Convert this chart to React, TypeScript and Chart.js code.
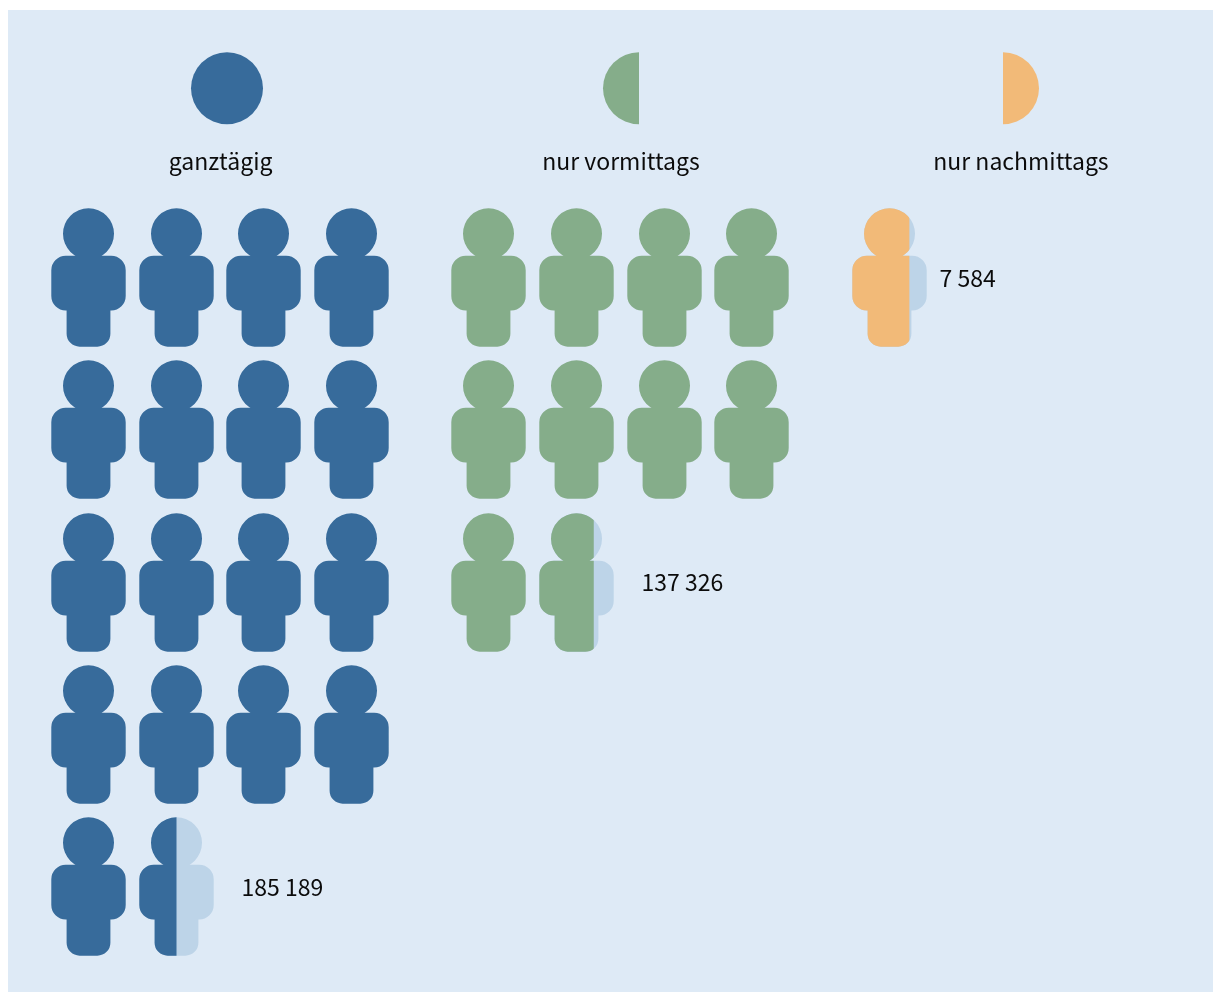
import React, { useEffect, useRef } from "react";
import { Chart, registerables } from "chart.js";

Chart.register(...registerables);

const categories = ["ganztägig", "nur vormittags", "nur nachmittags"];
const valueLabels = ["185 189", "137 326", "7 584"];
const wholePersons = [17, 9, 0];
const partialFill = [0.5, 0.73, 0.765];
const colors = ["#376b9b", "#85ad8a", "#f2ba78"];
const legendHalf = ["full", "left", "right"];
const paleColor = "#bdd4e8";
const panelColor = "#deeaf6";
const textColor = "#0b0b0b";
const fontFamily = '"Noto Sans CJK SC", "Noto Sans", sans-serif';

const groupStart = [0, 4.5677, 9.137];
const perRow = 4;
const legendX = [1.58, 6.274, 10.431];
const categoryLabelX = [1.506, 6.074, 10.636];
const legendY = -1.241;
const categoryLabelY = -0.7075;
const valueLabelX = [1.745, 6.308, 9.707];

function personPath(ctx: CanvasRenderingContext2D) {
  ctx.beginPath();
  ctx.arc(37.5, 27.7, 25.5, 0, Math.PI * 2);
  ctx.closePath();
  ctx.roundRect(0.3, 49.7, 74.4, 54.7, 14.5);
  ctx.roundRect(15.6, 70, 43.8, 70.5, 13);
}

function personIcon(color: string, fill: number) {
  const c = document.createElement("canvas");
  c.width = 75;
  c.height = 143;
  const ctx = c.getContext("2d")!;
  ctx.translate(0, 0.15);
  if (fill < 1) {
    ctx.fillStyle = paleColor;
    personPath(ctx);
    ctx.fill("nonzero");
  }
  ctx.save();
  ctx.beginPath();
  ctx.rect(0, -2, 75 * fill, 146);
  ctx.clip();
  ctx.fillStyle = color;
  personPath(ctx);
  ctx.fill("nonzero");
  ctx.restore();
  return c;
}

function legendIcon(color: string, kind: string) {
  const c = document.createElement("canvas");
  c.width = 74;
  c.height = 74;
  const ctx = c.getContext("2d")!;
  ctx.fillStyle = color;
  ctx.beginPath();
  if (kind === "left") {
    ctx.arc(37, 37.3, 36, Math.PI / 2, Math.PI * 1.5);
  } else if (kind === "right") {
    ctx.arc(37, 37.3, 36, -Math.PI / 2, Math.PI / 2);
  } else {
    ctx.arc(37, 37.3, 36, 0, Math.PI * 2);
  }
  ctx.closePath();
  ctx.fill();
  return c;
}

const textPlugin = {
  id: "texts",
  beforeDatasetsDraw(chart: Chart) {
    chart.ctx.imageSmoothingEnabled = false;
  },
  afterDatasetsDraw(chart: Chart) {
    const { ctx, scales } = chart;
    ctx.save();
    ctx.fillStyle = textColor;
    ctx.font = `23px ${fontFamily}`;
    ctx.textBaseline = "alphabetic";
    ctx.textAlign = "center";
    categories.forEach((name, i) => {
      ctx.fillText(name, scales.x.getPixelForValue(categoryLabelX[i]), scales.y.getPixelForValue(categoryLabelY));
    });
    ctx.textAlign = "left";
    categories.forEach((_, i) => {
      const n = wholePersons[i];
      const row = Math.floor(n / perRow);
      ctx.fillText(valueLabels[i], scales.x.getPixelForValue(valueLabelX[i]), scales.y.getPixelForValue(row) + 9.3);
    });
    ctx.restore();
  },
};

export default function App() {
  const ref = useRef<HTMLCanvasElement>(null);
  useEffect(() => {
    if (!ref.current) return;
    const personSets = categories.map((name, i) => {
      const data: { x: number; y: number }[] = [];
      const styles: HTMLCanvasElement[] = [];
      const full = personIcon(colors[i], 1);
      const part = personIcon(colors[i], partialFill[i]);
      for (let k = 0; k <= wholePersons[i]; k++) {
        data.push({ x: groupStart[i] + (k % perRow), y: Math.floor(k / perRow) });
        styles.push(k < wholePersons[i] ? full : part);
      }
      return {
        label: name,
        data,
        pointStyle: styles,
        pointRadius: 40,
        pointHoverRadius: 40,
        showLine: false,
        clip: false as const,
      };
    });
    const legendSet = {
      label: "Legende",
      data: categories.map((_, i) => ({ x: legendX[i], y: legendY })),
      pointStyle: categories.map((_, i) => legendIcon(colors[i], legendHalf[i])),
      pointRadius: 37,
      pointHoverRadius: 37,
      showLine: false,
      clip: false as const,
    };
    const chart = new Chart(ref.current, {
      type: "scatter",
      data: { datasets: [legendSet, ...personSets] as any },
      options: {
        animation: false,
        responsive: false,
        maintainAspectRatio: false,
        layout: { padding: 0, autoPadding: false },
        events: [],
        plugins: { legend: { display: false }, tooltip: { enabled: false }, title: { display: false } },
        scales: {
          x: { type: "linear", display: false, offset: false, bounds: "data", min: -0.9182, max: 12.8266 },
          y: { type: "linear", display: false, offset: false, bounds: "data", reverse: true, min: -1.7564, max: 4.6914 },
        },
      },
      plugins: [textPlugin],
    });
    return () => chart.destroy();
  }, []);
  return (
    <div style={{ position: "absolute", left: 8, top: 10, width: 1205, height: 982, background: panelColor }}>
      <canvas ref={ref} width={1205} height={982} style={{ display: "block", width: 1205, height: 982 }} />
    </div>
  );
}
